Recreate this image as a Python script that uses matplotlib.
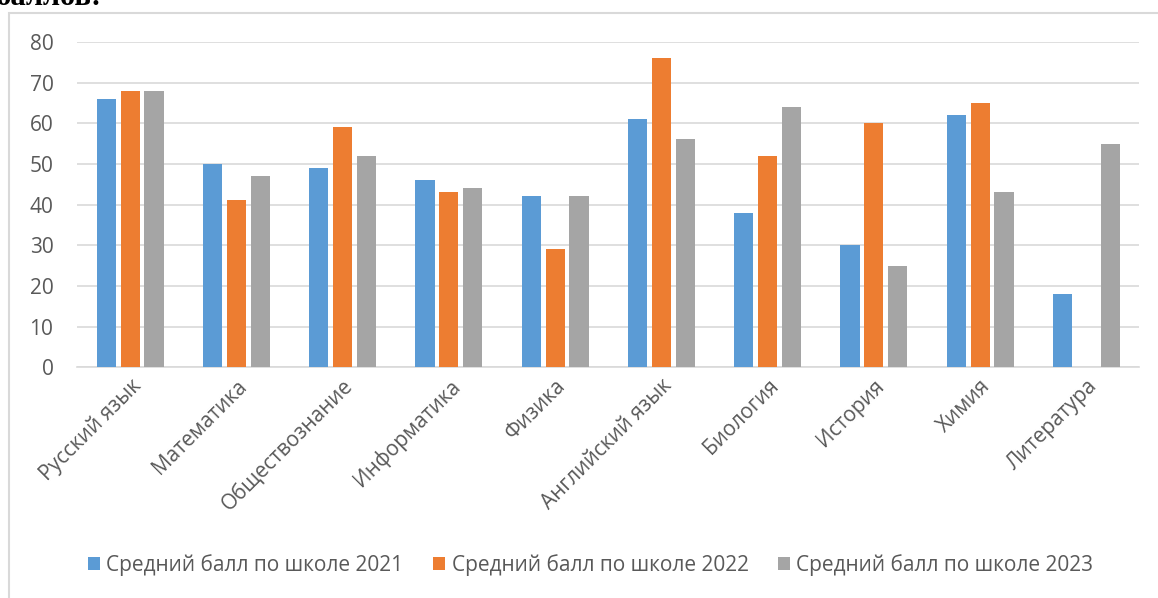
import numpy as np
import matplotlib
matplotlib.use('Agg')
import matplotlib.pyplot as plt
from matplotlib.patches import Rectangle

plt.rcParams['font.family'] = ['Open Sans', 'DejaVu Sans']

# Данные
subjects = ['Русский язык', 'Математика', 'Обществознание', 'Информатика', 'Физика',
            'Английский язык', 'Биология', 'История', 'Химия', 'Литература']
score_2021 = [66, 50, 49, 46, 42, 61, 38, 30, 62, 18]
score_2022 = [68, 41, 59, 43, 29, 76, 52, 60, 65, np.nan]
score_2023 = [68, 47, 52, 44, 42, 56, 64, 25, 43, 55]
series_names = ['Средний балл по школе 2021', 'Средний балл по школе 2022',
                'Средний балл по школе 2023']
colors = ['#5B9BD5', '#ED7D31', '#A5A5A5']
text_color = '#595959'

fig = plt.figure(figsize=(11.58, 5.98), dpi=100)
ax = fig.add_axes([0.0665, 0.386, 0.9175, 0.544])

x = np.arange(len(subjects))
width = 0.18
step = 0.225
for i, (vals, name, c) in enumerate(zip([score_2021, score_2022, score_2023], series_names, colors)):
    ax.bar(x + (i - 1) * step, vals, width, color=c, label=name, zorder=3)

ax.set_xlim(-0.5, len(subjects) - 0.5)
ax.set_ylim(0, 80)
ax.set_yticks(range(0, 81, 10))
ax.yaxis.grid(True, color='#D9D9D9', linewidth=1.2, zorder=0)
for s in ['top', 'right', 'left']:
    ax.spines[s].set_visible(False)
ax.spines['bottom'].set_color('#D9D9D9')
ax.spines['bottom'].set_linewidth(1.2)
ax.tick_params(axis='both', length=0, colors=text_color, labelsize=15)
ax.tick_params(axis='y', pad=17)
ax.set_xticks(x)
ax.set_xticklabels(subjects, rotation=45, ha='right', rotation_mode='anchor')
ax.tick_params(axis='x', pad=6)

leg = fig.legend(loc='center', bbox_to_anchor=(0.51, 0.055), ncol=3, frameon=False,
                 fontsize=15, handlelength=0.6, handleheight=0.6, handletextpad=0.3,
                 columnspacing=1.4)
for t in leg.get_texts():
    t.set_color(text_color)

# рамка диаграммы
fig.patches.append(Rectangle((9 / 1158, -0.05), 1.1, 1 - 13 / 598 + 0.05,
                             transform=fig.transFigure, fill=False,
                             edgecolor='#D9D9D9', linewidth=1.5))

# обрезанный заголовок сверху
fig.text(-0.004, 1 - 5 / 598, 'баллов:', family=['Liberation Serif', 'DejaVu Serif'],
         fontsize=22, fontweight='bold', va='baseline', ha='left', color='black')

fig.savefig('out.png', dpi=100)
